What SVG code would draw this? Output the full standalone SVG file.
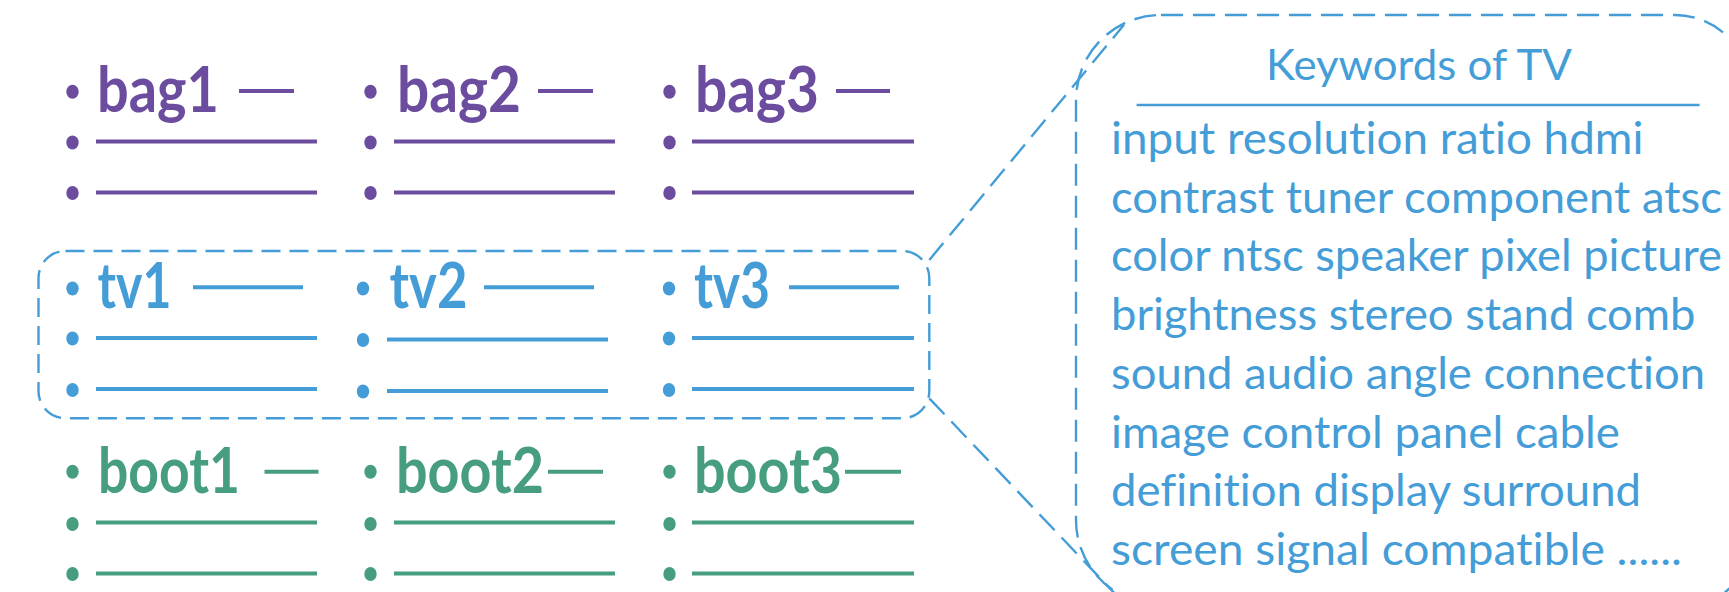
<svg xmlns="http://www.w3.org/2000/svg" width="1729" height="592" viewBox="0 0 1729 592">
  <style>
    text { font-variant-ligatures: none; font-feature-settings: "liga" 0, "clig" 0; }
    .title { font-family: Lato, "Open Sans", "Liberation Sans", sans-serif; font-weight: 700; font-size: 64px; }
    .kw { font-family: Lato, "Open Sans", "Liberation Sans", sans-serif; font-size: 45px; fill: #459dd8; }
    .head { font-family: Lato, "Open Sans", "Liberation Sans", sans-serif; font-size: 42px; fill: #459dd8; }
    .purple { fill: #6b4c9e; stroke: #6b4c9e; }
    .blue { fill: #459dd8; stroke: #459dd8; }
    .green { fill: #469e7f; stroke: #469e7f; }
    .purple text, .blue text, .green text { stroke: none; }
    .rule { stroke-width: 4; fill: none; }
    .dot { stroke: none; }
    .dashed { fill: none; stroke: #459dd8; stroke-width: 2.4; }
  </style>
  <defs>
    <ellipse id="bullet" class="dot" cx="0" cy="0" rx="6.2" ry="7"/>
  </defs>

  <!-- bag column items -->
  <g id="bag1" class="purple">
    <use href="#bullet" x="72.5" y="91.7"/>
    <text class="title" x="97" y="112" textLength="122" lengthAdjust="spacingAndGlyphs">bag1</text>
    <line class="rule" x1="239" y1="91" x2="294" y2="91"/>
    <use href="#bullet" x="72.5" y="142.5"/>
    <line class="rule" x1="96" y1="141.5" x2="317" y2="141.5"/>
    <use href="#bullet" x="72.5" y="193"/>
    <line class="rule" x1="96" y1="192.5" x2="317" y2="192.5"/>
  </g>
  <g id="bag2" class="purple">
    <use href="#bullet" x="370.5" y="91.7"/>
    <text class="title" x="397" y="112" textLength="124" lengthAdjust="spacingAndGlyphs">bag2</text>
    <line class="rule" x1="538" y1="91" x2="593" y2="91"/>
    <use href="#bullet" x="370.5" y="142.5"/>
    <line class="rule" x1="394" y1="141.5" x2="615" y2="141.5"/>
    <use href="#bullet" x="370.5" y="193"/>
    <line class="rule" x1="394" y1="192.5" x2="615" y2="192.5"/>
  </g>
  <g id="bag3" class="purple">
    <use href="#bullet" x="669.5" y="91.7"/>
    <text class="title" x="695" y="112" textLength="124" lengthAdjust="spacingAndGlyphs">bag3</text>
    <line class="rule" x1="836" y1="91" x2="890" y2="91"/>
    <use href="#bullet" x="669.5" y="142.5"/>
    <line class="rule" x1="692" y1="141.5" x2="914" y2="141.5"/>
    <use href="#bullet" x="669.5" y="193"/>
    <line class="rule" x1="692" y1="192.5" x2="914" y2="192.5"/>
  </g>

  <!-- tv column items and their dashed frame -->
  <g id="tv-frame">
    <rect class="dashed" x="38.5" y="251" width="890.8" height="167.3" rx="27" ry="27" stroke-dasharray="19 9"/>
  </g>
  <g id="tv1" class="blue">
    <use href="#bullet" x="72.5" y="288.5"/>
    <text class="title" x="97.5" y="308" textLength="74" lengthAdjust="spacingAndGlyphs">tv1</text>
    <line class="rule" x1="193" y1="287.3" x2="303" y2="287.3"/>
    <use href="#bullet" x="72.5" y="338.5"/>
    <line class="rule" x1="96" y1="338" x2="317" y2="338"/>
    <use href="#bullet" x="72.5" y="390"/>
    <line class="rule" x1="96" y1="389" x2="317" y2="389"/>
  </g>
  <g id="tv2" class="blue">
    <use href="#bullet" x="363" y="288.5"/>
    <text class="title" x="389.5" y="308" textLength="78" lengthAdjust="spacingAndGlyphs">tv2</text>
    <line class="rule" x1="484" y1="287.3" x2="594" y2="287.3"/>
    <use href="#bullet" x="363" y="340"/>
    <line class="rule" x1="387" y1="339.5" x2="608" y2="339.5"/>
    <use href="#bullet" x="363" y="391.5"/>
    <line class="rule" x1="387" y1="391" x2="608" y2="391"/>
  </g>
  <g id="tv3" class="blue">
    <use href="#bullet" x="669" y="288.5"/>
    <text class="title" x="694" y="308" textLength="76" lengthAdjust="spacingAndGlyphs">tv3</text>
    <line class="rule" x1="789" y1="287.3" x2="899" y2="287.3"/>
    <use href="#bullet" x="669" y="338.5"/>
    <line class="rule" x1="692" y1="338" x2="914" y2="338"/>
    <use href="#bullet" x="669" y="390"/>
    <line class="rule" x1="692" y1="389" x2="914" y2="389"/>
  </g>

  <!-- boot column items -->
  <g id="boot1" class="green">
    <use href="#bullet" x="72.5" y="471.7"/>
    <text class="title" x="98" y="493" textLength="142" lengthAdjust="spacingAndGlyphs">boot1</text>
    <line class="rule" x1="264.5" y1="471.7" x2="318.5" y2="471.7"/>
    <use href="#bullet" x="72.5" y="524"/>
    <line class="rule" x1="96" y1="522.5" x2="317" y2="522.5"/>
    <use href="#bullet" x="72.5" y="574"/>
    <line class="rule" x1="96" y1="573.5" x2="317" y2="573.5"/>
  </g>
  <g id="boot2" class="green">
    <use href="#bullet" x="370.5" y="471.7"/>
    <text class="title" x="396" y="493" textLength="148" lengthAdjust="spacingAndGlyphs">boot2</text>
    <line class="rule" x1="548" y1="471.7" x2="603" y2="471.7"/>
    <use href="#bullet" x="370.5" y="524"/>
    <line class="rule" x1="394" y1="522.5" x2="615" y2="522.5"/>
    <use href="#bullet" x="370.5" y="574"/>
    <line class="rule" x1="394" y1="573.5" x2="615" y2="573.5"/>
  </g>
  <g id="boot3" class="green">
    <use href="#bullet" x="669.5" y="471.7"/>
    <text class="title" x="694" y="493" textLength="148" lengthAdjust="spacingAndGlyphs">boot3</text>
    <line class="rule" x1="845" y1="471.7" x2="901" y2="471.7"/>
    <use href="#bullet" x="669.5" y="524"/>
    <line class="rule" x1="692" y1="522.5" x2="914" y2="522.5"/>
    <use href="#bullet" x="669.5" y="574"/>
    <line class="rule" x1="692" y1="573.5" x2="914" y2="573.5"/>
  </g>

  <!-- keyword callout box -->
  <g id="keywords">
    <path class="dashed" stroke-dasharray="22 10" d="M 1161 15 H 1675 A 75 75 0 0 1 1750 90 V 542 A 63 63 0 0 1 1687 605 H 1161 A 85 85 0 0 1 1076 520 V 100 A 85 85 0 0 1 1161 15 Z"/>
    <text class="head" x="1266" y="80" textLength="306" lengthAdjust="spacingAndGlyphs">Keywords of TV</text>
    <line x1="1136.6" y1="105" x2="1699.6" y2="105" stroke="#459dd8" stroke-width="2.7"/>
    <text class="kw" x="1111" y="154" textLength="532.5" lengthAdjust="spacingAndGlyphs">input resolution ratio hdmi</text>
    <text class="kw" x="1111" y="212.7" textLength="611" lengthAdjust="spacingAndGlyphs">contrast tuner component atsc</text>
    <text class="kw" x="1111" y="271.4" textLength="611" lengthAdjust="spacingAndGlyphs">color ntsc speaker pixel picture</text>
    <text class="kw" x="1111" y="330.1" textLength="584.5" lengthAdjust="spacingAndGlyphs">brightness stereo stand comb</text>
    <text class="kw" x="1111" y="388.8" textLength="594" lengthAdjust="spacingAndGlyphs">sound audio angle connection</text>
    <text class="kw" x="1111" y="447.5" textLength="509" lengthAdjust="spacingAndGlyphs">image control panel cable</text>
    <text class="kw" x="1111" y="506.2" textLength="530" lengthAdjust="spacingAndGlyphs">definition display surround</text>
    <text class="kw" x="1111" y="564.9" textLength="571" lengthAdjust="spacingAndGlyphs">screen signal compatible ......</text>
  </g>

  <!-- callout connectors from the tv frame to the keyword box -->
  <g id="connectors" fill="none" stroke="#459dd8" stroke-width="2.4" stroke-dasharray="22 10">
    <line x1="929.3" y1="260" x2="1124" y2="24.8"/>
    <line x1="929.3" y1="398.3" x2="1115.2" y2="594"/>
  </g>
</svg>
